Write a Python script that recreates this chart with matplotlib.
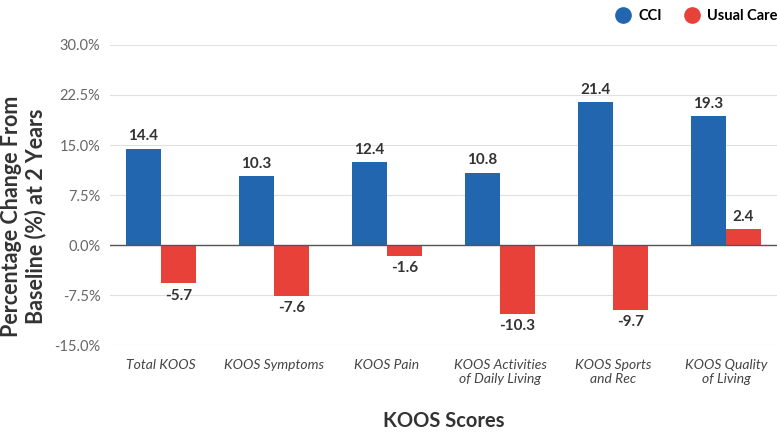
import numpy as np
import matplotlib.pyplot as plt
from matplotlib.lines import Line2D

plt.rcParams['font.family'] = ['Lato', 'DejaVu Sans']

categories = ['Total KOOS', 'KOOS Symptoms', 'KOOS Pain', 'KOOS Activities\nof Daily Living',
              'KOOS Sports\nand Rec', 'KOOS Quality\nof Living']
cci = [14.4, 10.3, 12.4, 10.8, 21.4, 19.3]
usual = [-5.7, -7.6, -1.6, -10.3, -9.7, 2.4]
yticks = [-15, -7.5, 0, 7.5, 15, 22.5, 30]

blue = '#2166ae'
red = '#e8413a'

fig = plt.figure(figsize=(7.77, 4.32), dpi=100)
ax = fig.add_axes([110 / 777, 0.201, 667 / 777, 0.695])

x = np.arange(len(categories))
w = 0.31
ax.bar(x - w / 2, cci, w, color=blue, zorder=3)
ax.bar(x + w / 2, usual, w, color=red, zorder=3)

# value labels
for xi, v in zip(x - w / 2, cci):
    ax.annotate(f'{v}', (xi, v), xytext=(0, 4), textcoords='offset points',
                ha='center', va='bottom', fontsize=11, fontweight='bold', color='#333333')
for xi, v in zip(x + w / 2, usual):
    if v < 0:
        ax.annotate(f'{v}', (xi, v), xytext=(0, -4), textcoords='offset points',
                    ha='center', va='top', fontsize=11, fontweight='bold', color='#333333')
    else:
        ax.annotate(f'{v}', (xi, v), xytext=(0, 4), textcoords='offset points',
                    ha='center', va='bottom', fontsize=11, fontweight='bold', color='#333333')

ax.set_ylim(-15, 30)
ax.set_xlim(-0.451, len(categories) - 1 + 0.451)
ax.set_yticks(yticks)
ax.set_yticklabels([f'{t:.1f}%' for t in yticks], fontsize=10.5, color='#666666')
ax.grid(axis='y', color='#e0e0e0', linewidth=0.8, zorder=0)
ax.axhline(0, color='#555555', linewidth=1, zorder=4)
for s in ax.spines.values():
    s.set_visible(False)
ax.tick_params(axis='y', length=0, pad=7)
ax.tick_params(axis='x', length=0, pad=10)
ax.set_xticks(x)
ax.set_xticklabels(categories, fontsize=10, style='italic', color='#444444')

ax.set_ylabel('Percentage Change From\nBaseline (%) at 2 Years', fontsize=15.5,
              fontweight='bold', color='#333333', linespacing=1.15)
ax.yaxis.set_label_coords(-0.096, 0.43)
ax.set_xlabel('KOOS Scores', fontsize=14.5, fontweight='bold', color='#333333', labelpad=19)

handles = [Line2D([], [], marker='o', linestyle='', markersize=11, color=blue),
           Line2D([], [], marker='o', linestyle='', markersize=11, color=red)]
ax.legend(handles, ['CCI', 'Usual Care'], loc='lower right', bbox_to_anchor=(1.02, 1.03),
          ncol=2, frameon=False, handlelength=1, handletextpad=0.5,
          prop={'weight': 'bold', 'size': 10.5}, columnspacing=1.6)

fig.savefig('out.png', dpi=100)
